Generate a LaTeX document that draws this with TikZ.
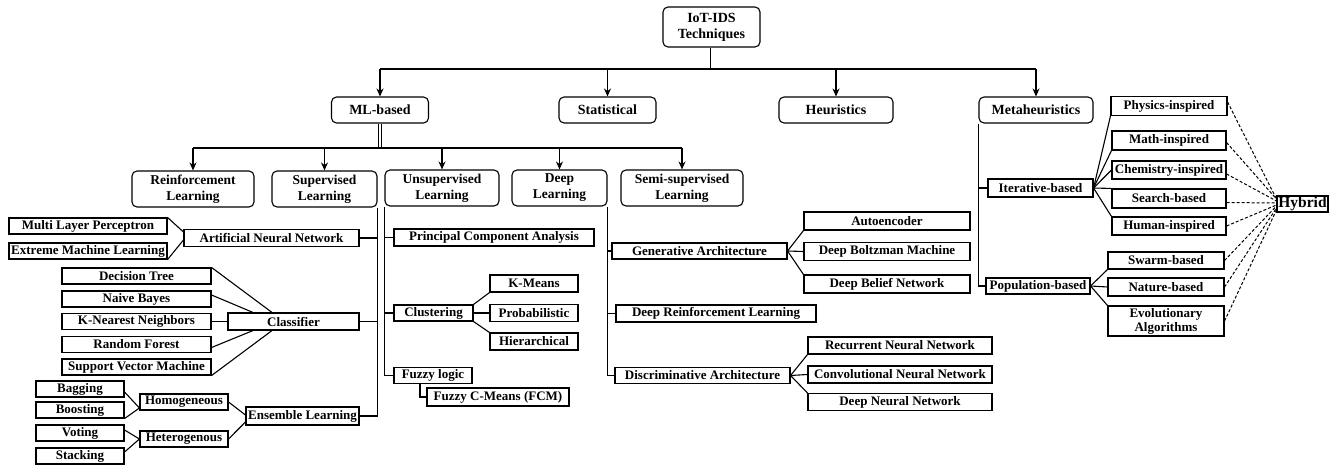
\documentclass[tikz,border=0pt]{standalone}
\usepackage{fontspec}
\setmainfont{Liberation Serif}
\usetikzlibrary{arrows.meta}

\begin{document}
\begin{tikzpicture}[x=1pt,y=-1pt,
  every node/.style={font=\fontsize{13}{14}\selectfont\bfseries, inner xsep=1pt, inner ysep=0pt, align=center},
  rbox/.style 2 args={draw, line width=1.1pt, rounded corners=5pt, minimum width=#1, minimum height=#2},
  box/.style 2 args={draw, line width=1.1pt, minimum width=#1, minimum height=#2},
  big/.style={font=\fontsize{14}{16}\selectfont\bfseries},
  mid/.style={font=\fontsize{13.5}{16}\selectfont\bfseries},
  link/.style={line width=1.1pt},
  arr/.style={line width=1.1pt, -{Stealth[length=8pt,width=7pt]}},
  dbl/.style={double, double distance=2pt, line width=0.7pt},
  dashlink/.style={line width=1pt, dash pattern=on 3pt off 2pt}
]
\useasboundingbox (0,0) rectangle (1333,466);

% Root and first level
\node[rbox={97}{40}, big] (root) at (711.5,27) {IoT-IDS\\Techniques};
\node[rbox={97}{26}, big] (ml) at (380,110) {ML-based};
\node[rbox={97}{26}, big] (stat) at (607.5,110) {Statistical};
\node[rbox={114}{26}, big] (heur) at (836,110) {Heuristics};
\node[rbox={114}{26}, big] (meta) at (1036,110) {Metaheuristics};

\coordinate (topbar) at (711.5,69);
\draw[dbl] (root.south) -- (topbar);
\draw[link] (ml.north |- topbar) -- (meta.north |- topbar);
\draw[arr] (ml.north |- topbar) -- (ml.north);
\draw[arr] (stat.north |- topbar) -- (stat.north);
\draw[arr] (heur.north |- topbar) -- (heur.north);
\draw[arr] (meta.north |- topbar) -- (meta.north);

% ML-based learning types
\node[rbox={122}{36}, mid] (rl) at (193,189) {Reinforcement\\Learning};
\node[rbox={105}{36}, mid] (sl) at (324.5,189) {Supervised\\Learning};
\node[rbox={114}{36}, mid] (ul) at (442,188) {Unsupervised\\Learning};
\node[rbox={95}{36}, mid] (dl) at (559.5,188) {Deep\\Learning};
\node[rbox={122}{36}, mid] (ssl) at (682,188) {Semi-supervised\\Learning};

\coordinate (mlbar) at (380,148);
\draw[dbl] (ml.south) -- (mlbar);
\draw[link] (rl.north |- mlbar) -- (ssl.north |- mlbar);
\draw[arr] (rl.north |- mlbar) -- (rl.north);
\draw[arr] (sl.north |- mlbar) -- (sl.north);
\draw[arr] (ul.north |- mlbar) -- (ul.north);
\draw[arr] (dl.north |- mlbar) -- (dl.north);
\draw[arr] (ssl.north |- mlbar) -- (ssl.north);

% Supervised learning
\node[box={175}{17}] (ann) at (271.5,238) {Artificial Neural Network};
\node[box={158}{16}] (mlp) at (88,226) {Multi Layer Perceptron};
\node[box={158}{16}] (elm) at (88,251) {Extreme Machine Learning};
\node[box={131}{17}] (cls) at (293.5,321.5) {Classifier};
\node[box={149}{16}] (dt) at (136.5,276) {Decision Tree};
\node[box={149}{16}] (nb) at (136.5,299) {Naive Bayes};
\node[box={149}{16}] (knn) at (136.5,321.5) {K-Nearest Neighbors};
\node[box={149}{16}] (rf) at (136.5,344.5) {Random Forest};
\node[box={149}{16}] (svm) at (136.5,367) {Support Vector Machine};
\node[box={113}{18}] (ens) at (302.5,416) {Ensemble Learning};
\node[box={88}{16}] (homo) at (184,402) {Homogeneous};
\node[box={88}{16}] (hetero) at (184,439) {Heterogenous};
\node[box={88}{16}] (bag) at (80,389) {Bagging};
\node[box={88}{16}] (boost) at (80,410) {Boosting};
\node[box={88}{16}] (vote) at (80,433) {Voting};
\node[box={88}{16}] (stack) at (80,456) {Stacking};

\draw[link] (sl.south east) |- (ens.east);
\draw[link] (ann.east) -- (ann.east -| sl.south east);
\draw[link] (cls.east) -- (cls.east -| sl.south east);
\draw[link] (mlp.north east) -- ([yshift=6pt]ann.west);
\draw[link] (elm.south east) -- ([yshift=-2pt]ann.west);
\draw[link] (dt.north east) -- ([xshift=-21.5pt]cls.north);
\draw[link] ([yshift=4pt]nb.east) -- ([xshift=-40.5pt]cls.north);
\draw[link] (knn.east) -- (cls.west);
\draw[link] ([yshift=-3pt]rf.east) -- ([xshift=-40.5pt]cls.south);
\draw[link] (svm.south east) -- ([xshift=-21.5pt]cls.south);
\draw[link] (homo.east) -- ([yshift=1pt]ens.west);
\draw[link] (hetero.east) -- ([yshift=-6pt]ens.west);
\draw[link] ([yshift=-3pt]bag.east) -- ([yshift=-6pt]homo.west);
\draw[link] (boost.south east) -- ([yshift=-6pt]homo.west);
\draw[link] ([yshift=3pt]vote.east) -- (hetero.west);
\draw[link] ([yshift=4pt]stack.east) -- (hetero.west);

% Unsupervised learning
\node[box={200}{17}] (pca) at (494,237.5) {Principal Component Analysis};
\node[box={79}{16}] (clu) at (433.5,313) {Clustering};
\node[box={88}{17}] (km) at (534,283.5) {K-Means};
\node[box={88}{17}] (prob) at (534,313) {Probabilistic};
\node[box={88}{17}] (hier) at (534,341.5) {Hierarchical};
\node[box={78}{16}] (fuz) at (433,375.5) {Fuzzy logic};
\node[box={142}{18}] (fcm) at (498,397) {Fuzzy C-Means (FCM)};

\draw[link] (ul.south west) |- (fuz.west);
\draw[link] (pca.west) -- (pca.west -| ul.south west);
\draw[link] (clu.west) -- (clu.west -| ul.south west);
\draw[link] (clu.north east) -- (km.south west);
\draw[link] (clu.east) -- (prob.west);
\draw[link] (clu.south east) -- (hier.north west);
\draw[link] ([xshift=-13pt]fuz.south) |- (fcm.west);

% Deep learning
\node[box={175}{16}] (gen) at (699.5,251) {Generative Architecture};
\node[box={166}{18}] (ae) at (887,221) {Autoencoder};
\node[box={166}{18}] (dbm) at (887,251.5) {Deep Boltzman Machine};
\node[box={166}{18}] (dbn) at (887,284) {Deep Belief Network};
\node[box={200}{17}] (drl) at (716,313.5) {Deep Reinforcement Learning};
\node[box={175}{16}] (dis) at (702.5,375.5) {Discriminative Architecture};
\node[box={184}{17}] (rnn) at (900,345.5) {Recurrent Neural Network};
\node[box={184}{17}] (cnn) at (900,374.5) {Convolutional Neural Network};
\node[box={184}{17}] (dnn) at (900,402) {Deep Neural Network};

\draw[link] (dl.south east) |- (dis.west);
\draw[link] (gen.west) -- (gen.west -| dl.south east);
\draw[link] (drl.west) -- (drl.west -| dl.south east);
\draw[link] (gen.east) -- (ae.south west);
\draw[link] (gen.east) -- (dbm.west);
\draw[link] (gen.east) -- (dbn.north west);
\draw[link] (dis.east) -- (rnn.south west);
\draw[link] (dis.east) -- (cnn.west);
\draw[link] (dis.east) -- (dnn.north west);

% Metaheuristics
\node[box={105}{18}] (iter) at (1040.5,188) {Iterative-based};
\node[box={104}{16}] (pop) at (1038,286) {Population-based};
\node[box={116}{19}] (phy) at (1169,106) {Physics-inspired};
\node[box={114}{19}] (math) at (1169,140.5) {Math-inspired};
\node[box={114}{18}] (chem) at (1169,170) {Chemistry-inspired};
\node[box={114}{19}] (srch) at (1169,198.5) {Search-based};
\node[box={114}{18}] (hum) at (1169,226) {Human-inspired};
\node[box={116}{17}] (swarm) at (1166,260.5) {Swarm-based};
\node[box={116}{18}] (nat) at (1166,287) {Nature-based};
\node[box={116}{30}] (evo) at (1166,321) {Evolutionary\\Algorithms};
\node[box={51}{16}, font=\fontsize{15.5}{16}\selectfont\bfseries] (hybrid) at (1302.5,204) {Hybrid};

\draw[link] (meta.south west) |- (pop.west);
\draw[link] (iter.west) -- (iter.west -| meta.south west);
\draw[link] (iter.east) -- (phy.south west);
\draw[link] (iter.east) -- (math.south west);
\draw[link] (iter.east) -- (chem.west);
\draw[link] (iter.east) -- (srch.north west);
\draw[link] (iter.east) -- (hum.north west);
\draw[link] (pop.east) -- (swarm.south west);
\draw[link] (pop.east) -- (nat.west);
\draw[link] (pop.east) -- (evo.north west);

% Hybrid links
\draw[dashlink] ([yshift=4pt]phy.east) -- ([yshift=5pt]hybrid.west);
\draw[dashlink] ([yshift=-2pt]math.east) -- ([yshift=5pt]hybrid.west);
\draw[dashlink] ([yshift=-4pt]chem.east) -- ([yshift=3pt]hybrid.west);
\draw[dashlink] ([yshift=-4pt]srch.east) -- ([yshift=1pt]hybrid.west);
\draw[dashlink] (hum.east) -- ([yshift=-1pt]hybrid.west);
\draw[dashlink] (swarm.east) -- ([yshift=-2pt]hybrid.west);
\draw[dashlink] (nat.east) -- ([yshift=-4pt]hybrid.west);
\draw[dashlink] (evo.east) -- ([yshift=-6pt]hybrid.west);

\end{tikzpicture}
\end{document}
